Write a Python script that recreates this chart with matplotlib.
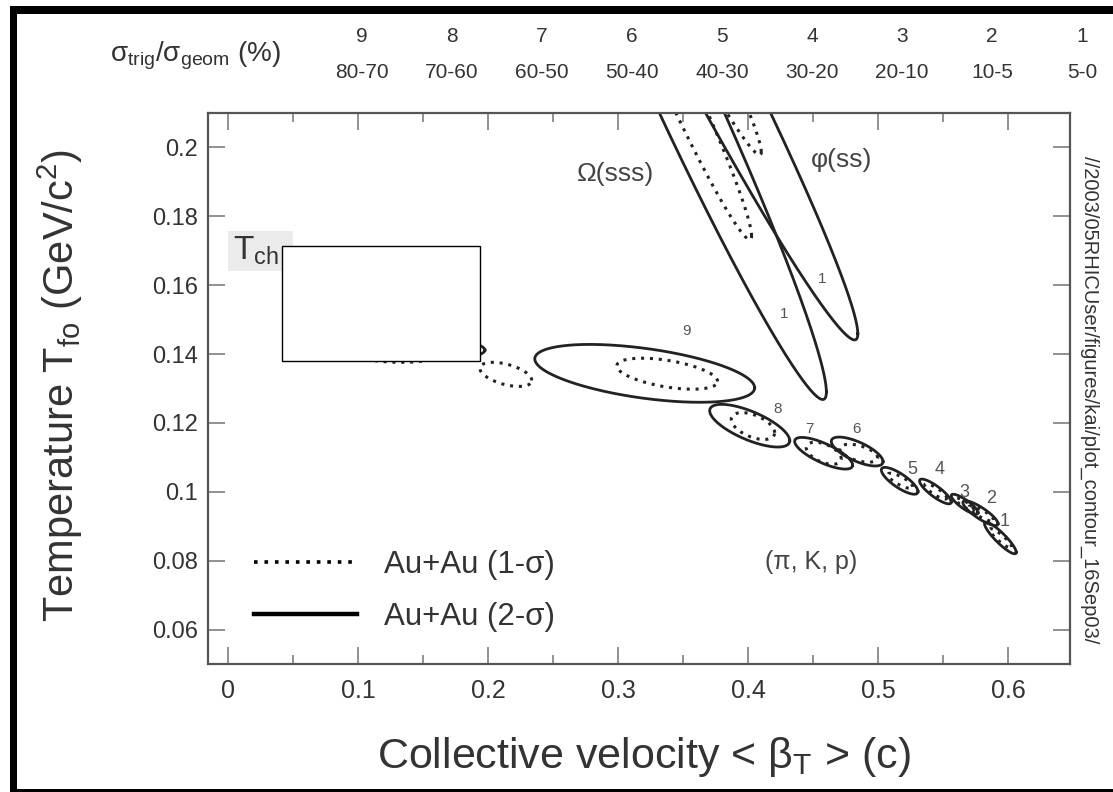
import numpy as np
import matplotlib.pyplot as plt
from matplotlib.lines import Line2D
from matplotlib.patches import Rectangle

# ---- data (fit contours: centre, sigma_x, sigma_y, correlation)
# (pi, K, p) fits, centrality bins 9 ... 1
bins = ['9', '8', '7', '6', '5', '4', '3', '2', '1']
# 2-sigma contours
cx2 = [0.3205, 0.4013, 0.4582, 0.4840, 0.5167, 0.5442, 0.5667, 0.5789, 0.5942]
cy2 = [0.1344, 0.1192, 0.1112, 0.1117, 0.1032, 0.1001, 0.0964, 0.0938, 0.0866]
sx2 = [0.0846, 0.0308, 0.0223, 0.0199, 0.0141, 0.0122, 0.0103, 0.0135, 0.0122]
sy2 = [0.0084, 0.0062, 0.0046, 0.0042, 0.0039, 0.0036, 0.0029, 0.0036, 0.0046]
rho2 = [-0.50, -0.70, -0.75, -0.70, -0.80, -0.85, -0.85, -0.85, -0.90]
# 1-sigma contours
cx1 = [0.3378, 0.4038, 0.4583, 0.4852, 0.5172, 0.5445, 0.5667, 0.5795, 0.5945]
cy1 = [0.1343, 0.1191, 0.1112, 0.1112, 0.1032, 0.1001, 0.0964, 0.0937, 0.0865]
sx1 = [0.0388, 0.0167, 0.0135, 0.0146, 0.0096, 0.0085, 0.0070, 0.0095, 0.0085]
sy1 = [0.0045, 0.0039, 0.0032, 0.0026, 0.0022, 0.0022, 0.0018, 0.0022, 0.0028]
rho1 = [-0.50, -0.50, -0.50, -0.50, -0.80, -0.85, -0.85, -0.85, -0.90]
# bin number labels
lab_x = [0.3528, 0.4228, 0.4474, 0.4834, 0.5267, 0.5474, 0.5667, 0.5872, 0.5975]
lab_y = [0.1466, 0.1240, 0.1181, 0.1182, 0.1066, 0.1064, 0.0999, 0.0981, 0.0913]

# multi-strange fits (central bin 1): Omega(sss), phi(ss)
strange_names = ['Omega', 'phi']
s_cx = [0.3452, 0.3359]
s_cy = [0.2196, 0.2515]
s_sx = [0.1151, 0.1486]
s_sy = [0.0928, 0.1074]
s_rho = [-0.9758, -0.9832]
s_lab_x = [0.4280, 0.4572]
s_lab_y = [0.1517, 0.1619]

# contours around T_ch (partly covered)
ch_cx = [0.125, 0.125, 0.2136]
ch_cy = [0.1424, 0.1412, 0.1341]
ch_sx = [0.0725, 0.040, 0.020]
ch_sy = [0.0042, 0.0036, 0.0035]
ch_rho = [-0.3, -0.2, -0.5]
ch_style = ['solid', 'dotted', 'dotted']

xticks = [0, 0.1, 0.2, 0.3, 0.4, 0.5, 0.6]
xtick_labels = ['0', '0.1', '0.2', '0.3', '0.4', '0.5', '0.6']
yticks = [0.06, 0.08, 0.10, 0.12, 0.14, 0.16, 0.18, 0.20]
ytick_labels = ['0.06', '0.08', '0.1', '0.12', '0.14', '0.16', '0.18', '0.2']

cent_bin = ['9', '8', '7', '6', '5', '4', '3', '2', '1']
cent_range = ['80-70', '70-60', '60-50', '50-40', '40-30', '30-20', '20-10', '10-5', '5-0']

NARROW = ['Liberation Sans Narrow', 'Liberation Sans', 'DejaVu Sans']
REG = ['Liberation Sans', 'DejaVu Sans']
TXT = '#333333'
LN = '#222222'
DOT = (0, (1.0, 1.9))


def ellipse(cx, cy, sx, sy, rho, n=400):
    t = np.linspace(0, 2 * np.pi, n)
    x = cx + sx * np.cos(t)
    y = cy + sy * (rho * np.cos(t) + np.sqrt(1 - rho ** 2) * np.sin(t))
    return x, y


W, H = 1113, 792
fig = plt.figure(figsize=(W / 100, H / 100), dpi=100)
ax = fig.add_axes([208 / W, 1 - 664 / H, (1070 - 208) / W, (664 - 113) / H])

for i in range(len(bins)):
    x, y = ellipse(cx2[i], cy2[i], sx2[i], sy2[i], rho2[i])
    ax.plot(x, y, color=LN, lw=2.0)
    x, y = ellipse(cx1[i], cy1[i], sx1[i], sy1[i], rho1[i])
    ax.plot(x, y, color=LN, lw=2.2, linestyle=DOT)
    fs = 11 if i < 4 else 13
    ax.text(lab_x[i], lab_y[i], bins[i], fontsize=fs, color='#555555',
            ha='center', va='center', family=NARROW)

for i in range(len(strange_names)):
    x, y = ellipse(s_cx[i], s_cy[i], s_sx[i], s_sy[i], s_rho[i], n=1500)
    ax.plot(x, y, color=LN, lw=2.0)
    x, y = ellipse(s_cx[i], s_cy[i], 0.5 * s_sx[i], 0.5 * s_sy[i], s_rho[i], n=1500)
    ax.plot(x, y, color=LN, lw=2.2, linestyle=DOT)
    ax.text(s_lab_x[i], s_lab_y[i], '1', fontsize=11, color='#555555',
            ha='center', va='center', family=NARROW)

for i in range(len(ch_cx)):
    x, y = ellipse(ch_cx[i], ch_cy[i], ch_sx[i], ch_sy[i], ch_rho[i])
    if ch_style[i] == 'solid':
        ax.plot(x, y, color=LN, lw=2.0)
    else:
        ax.plot(x, y, color=LN, lw=2.2, linestyle=DOT)

ax.set_xlim(-0.0156, 0.6478)
ax.set_ylim(0.05, 0.21)

# covering box
ax.add_patch(Rectangle((0.0411, 0.1379), 0.194 - 0.0411, 0.1715 - 0.1379,
                       facecolor='white', edgecolor='black', lw=1.0, zorder=10))
# T_ch tag
ax.add_patch(Rectangle((0.0, 0.164), 0.05, 0.0116, facecolor='#ebebeb',
                       edgecolor='none', zorder=1))
ax.text(0.004, 0.1700, r'T$_{\mathregular{ch}}$', fontsize=24, color=TXT,
        ha='left', va='center', family=REG, zorder=2)

ax.text(0.2983, 0.1922, 'Ω(sss)', fontsize=19, color='#444444',
        ha='center', va='center', family=REG)
ax.text(0.4718, 0.1964, 'φ(ss)', fontsize=19, color='#444444',
        ha='center', va='center', family=REG)
ax.text(0.4488, 0.0796, '(π, K, p)', fontsize=18, color='#444444',
        ha='center', va='center', family=REG)

handles = [Line2D([], [], color='black', lw=2.6, linestyle=DOT),
           Line2D([], [], color='black', lw=3.2)]
leg = ax.legend(handles, ['Au+Au (1-σ)', 'Au+Au (2-σ)'], loc='lower left',
                bbox_to_anchor=(0.021, 0.007), frameon=False,
                prop={'family': REG, 'size': 22.5}, handlelength=3.3,
                handletextpad=0.85, labelspacing=0.72)
for t in leg.get_texts():
    t.set_color(TXT)

ax.set_xticks(xticks)
ax.set_xticklabels(xtick_labels, family=NARROW, fontsize=18, color=TXT)
ax.set_xticks(np.arange(0.05, 0.65, 0.1), minor=True)
ax.set_yticks(yticks)
ax.set_yticklabels(ytick_labels, family=REG, fontsize=17, color=TXT)
ax.tick_params(which='both', direction='in', top=True, right=True,
               color='#888888', width=1.3)
ax.tick_params(which='major', length=12)
ax.tick_params(which='minor', length=6.5)
ax.tick_params(axis='x', pad=11)
ax.tick_params(axis='y', pad=7)
for s in ax.spines.values():
    s.set_color('#555555')
    s.set_linewidth(1.6)

fig.text(60 / W, 1 - 385 / H,
         r'Temperature T$_{\mathregular{fo}}$ (GeV/c$^{\mathregular{2}}$)',
         rotation=90, fontsize=30, color=TXT, ha='center', va='center', family=REG)
fig.text(644 / W, 1 - 757 / H, r'Collective velocity < β$_{\mathregular{T}}$ > (c)',
         fontsize=31, color=TXT, ha='center', va='center', family=NARROW)

# centrality scale on top
fig.text(195 / W, 1 - 56 / H, r'$\mathregular{σ_{trig}/σ_{geom}}$ (%)',
         fontsize=20, color=TXT, ha='center', va='center', family=NARROW)
for k in range(len(cent_bin)):
    xp = (362 + 90 * k) / W
    fig.text(xp, 1 - 37 / H, cent_bin[k], fontsize=15, color=TXT,
             ha='center', va='center', family=NARROW)
    fig.text(xp, 1 - 72 / H, cent_range[k], fontsize=15, color=TXT,
             ha='center', va='center', family=NARROW)

fig.text(1090 / W, 1 - 400 / H, '//2003/05RHICUser/figures/kai/plot_contour_16Sep03/',
         rotation=270, fontsize=14.5, color=TXT, ha='center', va='center', family=NARROW)

# black frame of the scan
for (x0, y0, w, h) in [(10, 6, 7, 786), (10, 6, 1103, 8), (10, 789, 1103, 3)]:
    fig.add_artist(Rectangle((x0 / W, 1 - (y0 + h) / H), w / W, h / H,
                             transform=fig.transFigure, facecolor='black',
                             edgecolor='none'))

fig.savefig('out.png', dpi=100)
